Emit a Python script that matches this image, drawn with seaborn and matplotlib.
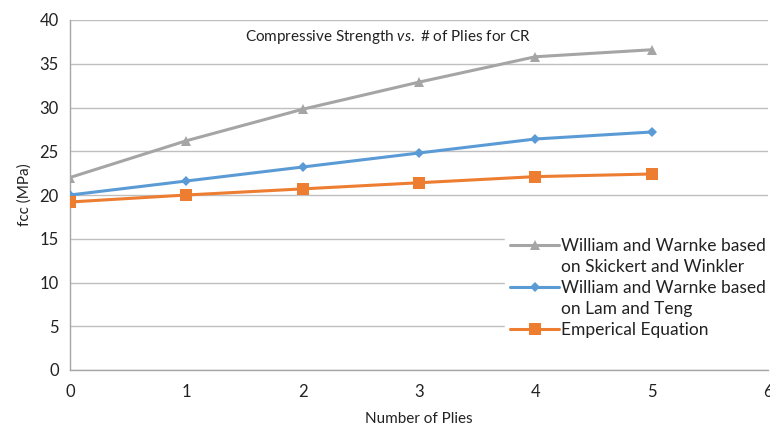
import matplotlib
matplotlib.use("Agg")
import matplotlib.pyplot as plt
from matplotlib.lines import Line2D
import seaborn as sns
import pandas as pd

plies = [0, 1, 2, 3, 4, 5]
skickert_winkler = [22.0, 26.2, 29.8, 32.9, 35.8, 36.6]
lam_teng = [20.0, 21.6, 23.2, 24.8, 26.4, 27.2]
emperical = [19.2, 20.0, 20.7, 21.4, 22.1, 22.4]

series_names = [
    ["William and Warnke based", "on Skickert and Winkler"],
    ["William and Warnke based", "on Lam and Teng"],
    ["Emperical Equation"],
]
series_values = [skickert_winkler, lam_teng, emperical]
colors = ["#A5A5A5", "#5B9BD5", "#ED7D31"]
markers = ["^", "D", "s"]
marker_sizes = [7, 5, 8]

sns.set_theme(style="white")
plt.rcParams["font.family"] = ["Lato", "DejaVu Sans"]
plt.rcParams["mathtext.fontset"] = "custom"
plt.rcParams["mathtext.rm"] = "Lato"
plt.rcParams["mathtext.it"] = "Lato:italic"

fig = plt.figure(figsize=(7.7, 4.3), dpi=100)
ax = fig.add_axes([70 / 770, 60 / 430, 698 / 770, 350 / 430])

for name, vals, c, m, ms in zip(series_names, series_values, colors, markers, marker_sizes):
    df = pd.DataFrame({"x": plies, "y": vals})
    sns.lineplot(data=df, x="x", y="y", ax=ax, color=c, marker=m, markersize=ms,
                 markeredgewidth=0, linewidth=2.2, label=" ".join(name), zorder=3)

ax.set_xlim(0, 6)
ax.set_ylim(0, 40)
ax.set_xticks(range(0, 7))
ax.set_yticks(range(0, 41, 5))
ax.yaxis.grid(True, color="#BFBFBF", linewidth=1.0)
ax.xaxis.grid(False)
for side in ["top", "right"]:
    ax.spines[side].set_visible(False)
for side in ["left", "bottom"]:
    ax.spines[side].set_color("#A6A6A6")
    ax.spines[side].set_linewidth(1.0)
ax.tick_params(axis="both", which="major", labelsize=12, colors="#A6A6A6",
               length=5, width=1.0, direction="out")
ax.tick_params(axis="x", pad=5)
ax.tick_params(axis="y", pad=3)
for lbl in ax.get_xticklabels() + ax.get_yticklabels():
    lbl.set_color("#222222")

ax.set_xlabel("Number of Plies", fontsize=11, color="#222222", labelpad=9)
ax.set_ylabel("fcc (MPa)", fontsize=11, color="#222222", labelpad=6)

ax.text(0.455, 0.95, r"Compressive Strength $\mathit{vs.}$ # of Plies for CR",
        transform=ax.transAxes, ha="center", va="center", fontsize=11, color="#222222")

# Legend: the marker sits beside the first line of each wrapped label
series_handles, _ = ax.get_legend_handles_labels()
handles, labels = [], []
for h, name in zip(series_handles, series_names):
    handles.append(h)
    labels.append(name[0])
    for extra in name[1:]:
        handles.append(Line2D([], [], linestyle="none", marker=None))
        labels.append(extra)

leg = ax.legend(handles, labels, loc="upper left",
                bbox_to_anchor=(505 / 770, 1 - 233 / 430),
                bbox_transform=fig.transFigure, fontsize=12.5, frameon=True,
                facecolor="white", edgecolor="white", framealpha=1.0,
                handlelength=2.8, handletextpad=0.15, labelspacing=0.29,
                borderpad=0.3, borderaxespad=0)
for t in leg.get_texts():
    t.set_color("#222222")
leg.set_zorder(5)

fig.savefig("out.png", dpi=100)
